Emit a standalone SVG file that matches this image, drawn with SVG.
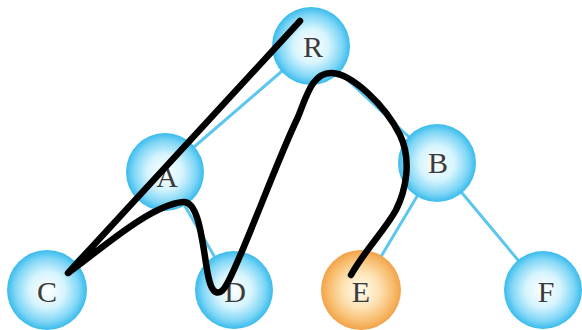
<svg xmlns="http://www.w3.org/2000/svg" width="582" height="330" viewBox="0 0 582 330">
<style>
.edge{stroke:#5cc6ee;stroke-width:3;fill:none}
.blue{fill:url(#gBlue)}
.orange{fill:url(#gOrange)}
.lbl{font-family:"Liberation Serif","Times New Roman",serif;font-size:30px;fill:#3c3c3c;text-anchor:middle}
.ink{stroke:#000;stroke-width:6.5;fill:none;stroke-linecap:round;stroke-linejoin:round}
</style>
<defs>
<radialGradient id="gBlue" cx="0.5" cy="0.5" r="0.5">
<stop offset="0" stop-color="#ffffff"/>
<stop offset="0.45" stop-color="#d6f4fd"/>
<stop offset="0.8" stop-color="#7fd6f6"/>
<stop offset="1" stop-color="#38bbec"/>
</radialGradient>
<radialGradient id="gOrange" cx="0.5" cy="0.5" r="0.5">
<stop offset="0" stop-color="#fffbea"/>
<stop offset="0.45" stop-color="#fde3b6"/>
<stop offset="0.8" stop-color="#f8bd6e"/>
<stop offset="1" stop-color="#f2a24a"/>
</radialGradient>
</defs>
<rect width="582" height="330" fill="#ffffff"/>
<g id="edges">
<line class="edge" x1="311" y1="46" x2="165" y2="172"/>
<line class="edge" x1="311" y1="46" x2="437" y2="163"/>
<line class="edge" x1="165" y1="172" x2="47" y2="290"/>
<line class="edge" x1="165" y1="172" x2="234" y2="290"/>
<line class="edge" x1="437" y1="163" x2="361" y2="290"/>
<line class="edge" x1="437" y1="163" x2="543" y2="290"/>
</g>
<g id="R"><circle class="blue" cx="311" cy="46" r="39"/><text class="lbl" x="313" y="57">R</text></g>
<g id="A"><circle class="blue" cx="165" cy="172" r="39"/><text class="lbl" x="167" y="187">A</text></g>
<g id="B"><circle class="blue" cx="437" cy="163" r="39"/><text class="lbl" x="438" y="173">B</text></g>
<g id="C"><circle class="blue" cx="47" cy="290" r="40"/><text class="lbl" x="47" y="302">C</text></g>
<g id="D"><circle class="blue" cx="234" cy="290" r="39"/><text class="lbl" x="235" y="302">D</text></g>
<g id="E"><circle class="orange" cx="361" cy="290" r="40"/><text class="lbl" x="361" y="302">E</text></g>
<g id="F"><circle class="blue" cx="543" cy="290" r="39"/><text class="lbl" x="546" y="302">F</text></g>
<g id="ink">
<path class="ink" d="M300,21 L68,273 C100,250 150,205 183,202 C200,200 203,250 208,275 C212,296 220,298 228,282 C245,250 275,165 298,117 C306,98 312,72 332,73 C352,74 385,105 400,135 C412,160 406,190 396,210 C385,230 365,250 351,275"/>
</g>
</svg>
